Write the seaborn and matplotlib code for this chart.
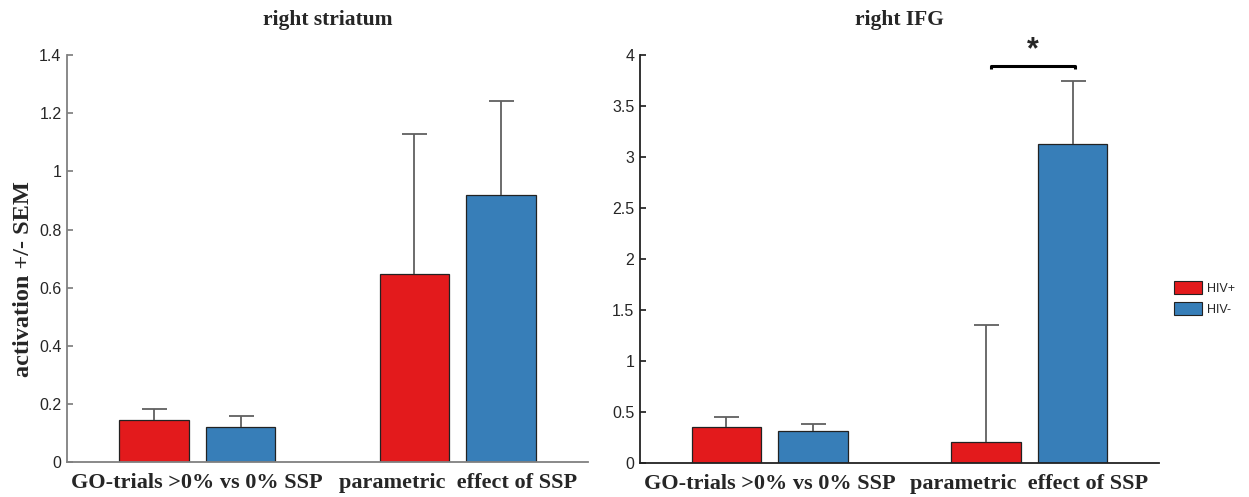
import matplotlib
matplotlib.use("Agg")
import matplotlib.pyplot as plt
import matplotlib.patches as mpatches
import seaborn as sns
import pandas as pd

sns.set_theme(style="white")
plt.rcParams["font.family"] = ["Liberation Sans", "DejaVu Sans"]
SERIF = ["Liberation Serif", "DejaVu Serif"]

RED = "#E31A1C"
BLUE = "#377EB8"

conditions = ["GO-trials >0% vs 0% SSP", "parametric  effect of SSP"]
groups = ["HIV+", "HIV-"]

# means / SEM per region, ordered [HIV+ cond1, HIV+ cond2, HIV- cond1, HIV- cond2]
striatum_mean = [0.144, 0.646, 0.121, 0.918]
striatum_sem = [0.038, 0.483, 0.037, 0.323]
ifg_mean = [0.35, 0.206, 0.31, 3.13]
ifg_sem = [0.104, 1.144, 0.075, 0.615]

titles = ["right striatum", "right IFG"]
ylims = [(0, 1.4), (0, 4)]
yticks = [[0, 0.2, 0.4, 0.6, 0.8, 1, 1.2, 1.4],
          [0, 0.5, 1, 1.5, 2, 2.5, 3, 3.5, 4]]
ytick_labels = [["0", "0.2", "0.4", "0.6", "0.8", "1", "1.2", "1.4"],
                ["0", "0.5", "1", "1.5", "2", "2.5", "3", "3.5", "4"]]


def make_df(means, sems):
    rows = []
    k = 0
    for g in groups:
        for c in conditions:
            rows.append({"condition": c, "group": g, "mean": means[k], "sem": sems[k]})
            k += 1
    return pd.DataFrame(rows)


fig = plt.figure(figsize=(12.49, 4.97), dpi=100)
ax1 = fig.add_axes([67 / 1249, 0.0704, 521 / 1249, 0.8186])
ax2 = fig.add_axes([640 / 1249, 0.0684, 519 / 1249, 0.8206])

data = [make_df(striatum_mean, striatum_sem), make_df(ifg_mean, ifg_sem)]
spine_colors = ["#808080", "#222222"]

for ax, df, title, ylim, yt, ytl, sc in zip([ax1, ax2], data, titles, ylims,
                                             yticks, ytick_labels, spine_colors):
    sns.barplot(data=df, x="condition", y="mean", hue="group", order=conditions,
                hue_order=groups, palette=[RED, BLUE], width=0.667, gap=0.2,
                edgecolor="#222222", linewidth=0.9, errorbar=None, legend=False,
                saturation=1, ax=ax)
    # upward-only SEM bars (no cap at the bar top)
    for cont, g in zip(ax.containers, groups):
        sub = df[df["group"] == g].set_index("condition").loc[conditions]
        xs = [b.get_x() + b.get_width() / 2 for b in cont]
        eb = ax.errorbar(xs, sub["mean"], yerr=[[0] * len(xs), sub["sem"]], fmt="none",
                         ecolor="#606060", elinewidth=1.3, capsize=9, capthick=1.3,
                         zorder=1)
        eb[1][0].set_visible(False)
    ax.set_xlim(-0.5, 1.5)
    ax.set_ylim(*ylim)
    ax.set_yticks(yt)
    ax.set_yticklabels(ytl, fontsize=11.5)
    ax.tick_params(axis="y", direction="in", length=4, color=sc, left=True, pad=4)
    ax.tick_params(axis="x", length=0, pad=8)
    for lbl in ax.get_xticklabels():
        lbl.set_fontfamily(SERIF)
        lbl.set_fontweight("bold")
        lbl.set_fontsize(16)
    ax.set_xlabel("")
    ax.set_ylabel("")
    ax.set_title(title, fontsize=15.5, fontweight="bold", family=SERIF, pad=22)
    for s in ["top", "right"]:
        ax.spines[s].set_visible(False)
    for s in ["left", "bottom"]:
        ax.spines[s].set_color(sc)
        ax.spines[s].set_linewidth(1.3)

ax1.set_ylabel("activation +/- SEM", fontsize=17.5, fontweight="bold", family=SERIF)
ax1.yaxis.set_label_coords(-0.064, 0.45)

# significance bracket on right IFG, parametric effect
red_bar = ax2.containers[0][1]
blue_bar = ax2.containers[1][1]
x0 = red_bar.get_x() + red_bar.get_width() / 2 + 0.02
x1 = blue_bar.get_x() + blue_bar.get_width() / 2 + 0.01
ax2.plot([x0, x0, x1, x1], [3.86, 3.89, 3.89, 3.86], color="black", lw=2.2,
         clip_on=False, solid_capstyle="butt")
ax2.text((x0 + x1) / 2, 3.9, "*", ha="center", va="bottom", fontsize=22,
         fontweight="bold", clip_on=False)

handles = [mpatches.Patch(facecolor=RED, edgecolor="#222222", lw=0.8, label="HIV+"),
           mpatches.Patch(facecolor=BLUE, edgecolor="#222222", lw=0.8, label="HIV-")]
fig.legend(handles=handles, loc="center left", bbox_to_anchor=(1163 / 1249, 0.4),
           frameon=False, fontsize=9, handlelength=2.2, handleheight=1.3,
           handletextpad=0.4, labelspacing=0.55)

fig.savefig("out.png", dpi=100)
